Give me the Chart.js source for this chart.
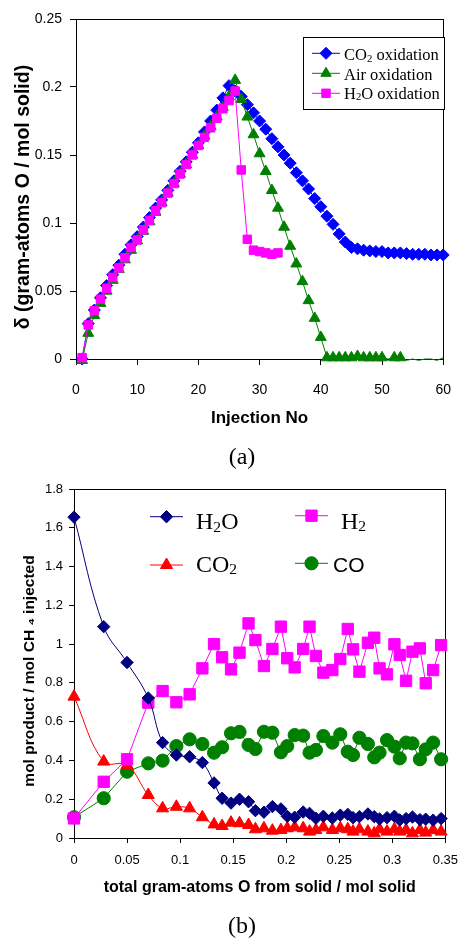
<!DOCTYPE html>
<html>
<head>
<meta charset="utf-8">
<script src="https://cdn.jsdelivr.net/npm/chart.js@4.4.0/dist/chart.umd.min.js"></script>
<style>
  html, body { margin: 0; padding: 0; background: #fff; }
  #wrap { position: relative; width: 468px; height: 940px; }
  .panel { position: absolute; left: 0; width: 468px; height: 470px; }
  #panelA { top: 0; }
  #panelB { top: 470px; }
</style>
</head>
<body>
<div id="wrap">
  <div class="panel" id="panelA"><canvas id="chartA" width="468" height="470"></canvas></div>
  <div class="panel" id="panelB"><canvas id="chartB" width="468" height="470"></canvas></div>
</div>
<script>
// (a) oxygen taken up by the solid, per injection
const injectionNo = [1, 2, 3, 4, 5, 6, 7, 8, 9, 10, 11, 12, 13, 14, 15, 16, 17, 18, 19, 20,
  21, 22, 23, 24, 25, 26, 27, 28, 29, 30, 31, 32, 33, 34, 35, 36, 37, 38, 39, 40,
  41, 42, 43, 44, 45, 46, 47, 48, 49, 50, 51, 52, 53, 54, 55, 56, 57, 58, 59, 60];
const co2Oxidation = [0.000, 0.026, 0.036, 0.045, 0.054, 0.062, 0.069, 0.077, 0.084, 0.090,
  0.097, 0.104, 0.111, 0.117, 0.124, 0.131, 0.138, 0.145, 0.152, 0.159,
  0.167, 0.175, 0.183, 0.192, 0.201, 0.197, 0.193, 0.187, 0.181, 0.175,
  0.169, 0.162, 0.156, 0.150, 0.144, 0.137, 0.131, 0.125, 0.118, 0.112,
  0.105, 0.099, 0.092, 0.086, 0.082, 0.081, 0.080, 0.0795, 0.079, 0.079,
  0.078, 0.078, 0.078, 0.0775, 0.077, 0.077, 0.077, 0.0765, 0.0765, 0.0765];
const airOxidation = [-0.001, 0.019, 0.032, 0.041, 0.050, 0.058, 0.066, 0.073, 0.080, 0.087,
  0.094, 0.101, 0.108, 0.115, 0.122, 0.129, 0.136, 0.143, 0.150, 0.157,
  0.164, 0.171, 0.178, 0.185, 0.193, 0.205, 0.191, 0.178, 0.165, 0.151,
  0.138, 0.124, 0.111, 0.097, 0.083, 0.070, 0.057, 0.043, 0.030, 0.016,
  0.001, 0.001, 0.001, 0.001, 0.001, 0.002, 0.001, 0.001, 0.001, 0.001,
  0.000, 0.001, 0.001, -0.001, 0.000, -0.001, 0.000, 0.000, -0.001, 0.001];
const h2oOxidation = [0.001, 0.025, 0.0355, 0.044, 0.052, 0.060, 0.067, 0.0745, 0.082, 0.0875,
  0.095, 0.102, 0.109, 0.115, 0.122, 0.129, 0.136, 0.143, 0.150, 0.157,
  0.163, 0.170, 0.177, 0.184, 0.190, 0.197, 0.139, 0.088, 0.080, 0.079,
  0.078, 0.077, 0.078];

// (b) products per mol CH4 vs total oxygen removed
const oxygenRemoved = [0, 0.028, 0.050, 0.070, 0.0835, 0.0965, 0.109, 0.121, 0.132, 0.1396,
  0.148, 0.156, 0.1645, 0.171, 0.179, 0.187, 0.195, 0.201, 0.208, 0.216,
  0.222, 0.228, 0.235, 0.2435, 0.251, 0.258, 0.263, 0.269, 0.277, 0.283,
  0.288, 0.295, 0.302, 0.307, 0.313, 0.319, 0.326, 0.3315, 0.3385, 0.346];
const h2oProduct = [1.655, 1.090, 0.905, 0.722, 0.492, 0.428, 0.419, 0.389, 0.284, 0.205,
  0.180, 0.200, 0.187, 0.141, 0.133, 0.162, 0.150, 0.112, 0.107, 0.134,
  0.127, 0.102, 0.112, 0.103, 0.118, 0.122, 0.105, 0.110, 0.124, 0.110,
  0.098, 0.105, 0.112, 0.093, 0.100, 0.108, 0.095, 0.097, 0.092, 0.100];
const h2Product = [0.101, 0.290, 0.406, 0.698, 0.758, 0.700, 0.741, 0.875, 1.000, 0.932,
  0.870, 0.956, 1.107, 1.021, 0.887, 0.975, 1.090, 0.927, 0.880, 0.975,
  1.090, 0.939, 0.853, 0.866, 0.923, 1.078, 0.973, 0.858, 1.007, 1.033,
  0.875, 0.844, 0.999, 0.944, 0.811, 0.961, 0.978, 0.798, 0.866, 0.995];
const co2Product = [0.729, 0.394, 0.376, 0.222, 0.153, 0.161, 0.153, 0.107, 0.070, 0.062,
  0.079, 0.076, 0.067, 0.045, 0.050, 0.038, 0.041, 0.050, 0.055, 0.050,
  0.033, 0.041, 0.055, 0.041, 0.050, 0.045, 0.033, 0.045, 0.033, 0.024,
  0.045, 0.033, 0.045, 0.033, 0.041, 0.024, 0.041, 0.028, 0.041, 0.033];
const coProduct = [0.107, 0.205, 0.342, 0.385, 0.399, 0.474, 0.509, 0.485, 0.440, 0.468,
  0.540, 0.547, 0.480, 0.459, 0.548, 0.543, 0.442, 0.474, 0.531, 0.528,
  0.440, 0.454, 0.526, 0.492, 0.535, 0.445, 0.428, 0.517, 0.485, 0.416,
  0.440, 0.505, 0.471, 0.411, 0.492, 0.488, 0.406, 0.457, 0.492, 0.406];

const SANS = "'Liberation Sans', Arial, sans-serif";
const SERIF = "'Liberation Serif', 'Times New Roman', serif";

function points(xs, ys) {
  return ys.map((y, i) => ({ x: xs[i], y: y }));
}

function fmt(v) {
  return String(parseFloat(Number(v).toFixed(2)));
}

// same geometry as chart.js point styles, used for the hand drawn legends
function drawMarker(ctx, style, x, y, r, color) {
  ctx.save();
  ctx.fillStyle = color;
  ctx.strokeStyle = color;
  ctx.lineWidth = 1;
  ctx.beginPath();
  if (style === 'rectRot') {
    ctx.moveTo(x - r, y);
    ctx.lineTo(x, y - r);
    ctx.lineTo(x + r, y);
    ctx.lineTo(x, y + r);
    ctx.closePath();
  } else if (style === 'rect') {
    const s = r * Math.SQRT1_2;
    ctx.rect(x - s, y - s, 2 * s, 2 * s);
  } else if (style === 'triangle') {
    ctx.moveTo(x, y - r);
    ctx.lineTo(x + 0.866 * r, y + 0.5 * r);
    ctx.lineTo(x - 0.866 * r, y + 0.5 * r);
    ctx.closePath();
  } else {
    ctx.arc(x, y, r, 0, Math.PI * 2);
  }
  ctx.fill();
  ctx.stroke();
  ctx.restore();
}

// text with subscripts: parts = [[text, isSub], ...]
function drawRich(ctx, parts, x, y, size, family) {
  ctx.save();
  ctx.fillStyle = '#000';
  ctx.textAlign = 'left';
  ctx.textBaseline = 'alphabetic';
  let cx = x;
  parts.forEach(([text, sub]) => {
    const s = sub ? size * 0.65 : size;
    ctx.font = s + 'px ' + family;
    ctx.fillText(text, cx, sub ? y + size * 0.1 : y);
    cx += ctx.measureText(text).width;
  });
  ctx.restore();
}

function frame(chart) {
  const a = chart.chartArea;
  const ctx = chart.ctx;
  ctx.save();
  ctx.strokeStyle = '#000';
  ctx.lineWidth = 1;
  ctx.strokeRect(Math.round(a.left) + 0.5, Math.round(a.top) + 0.5,
    Math.round(a.right - a.left), Math.round(a.bottom - a.top));
  ctx.restore();
}

function caption(chart, text, x, y) {
  const ctx = chart.ctx;
  ctx.save();
  ctx.fillStyle = '#000';
  ctx.font = '24px ' + SERIF;
  ctx.textAlign = 'center';
  ctx.textBaseline = 'middle';
  ctx.fillText(text, x, y);
  ctx.restore();
}

// rotated y title, placed a little below the middle of the axis like the original
function yTitle(chart, text, x, y, size) {
  const ctx = chart.ctx;
  ctx.save();
  ctx.translate(x, y);
  ctx.rotate(-Math.PI / 2);
  ctx.fillStyle = '#000';
  ctx.font = 'bold ' + size + 'px ' + SANS;
  ctx.textAlign = 'center';
  ctx.textBaseline = 'middle';
  ctx.fillText(text, 0, 0);
  ctx.restore();
}

function axisGrid(len) {
  return { display: true, drawOnChartArea: false, drawTicks: true, tickLength: len, color: '#000' };
}

Chart.defaults.color = '#000';
Chart.defaults.font.family = SANS;

const legendA = [
  { style: 'rectRot', color: '#0000FF', y: 53.3, base: 60, text: [['CO', 0], ['2', 1], [' oxidation', 0]] },
  { style: 'triangle', color: '#008000', y: 73.3, base: 79.5, text: [['Air oxidation', 0]] },
  { style: 'rect', color: '#FF00FF', y: 93.3, base: 98.5, text: [['H', 0], ['2', 1], ['O oxidation', 0]] }
];

const decoA = {
  id: 'decoA',
  beforeDatasetsDraw(chart) {
    frame(chart);
  },
  afterDraw(chart) {
    const ctx = chart.ctx;
    ctx.save();
    ctx.fillStyle = '#fff';
    ctx.fillRect(303, 37, 141, 72);
    ctx.strokeStyle = '#000';
    ctx.lineWidth = 1;
    ctx.strokeRect(303.5, 37.5, 141, 72);
    ctx.restore();
    legendA.forEach(item => {
      ctx.save();
      ctx.strokeStyle = item.color;
      ctx.lineWidth = 1;
      ctx.beginPath();
      ctx.moveTo(312, item.y);
      ctx.lineTo(340, item.y);
      ctx.stroke();
      ctx.restore();
      drawMarker(ctx, item.style, 326, item.y, 6, item.color);
      drawRich(ctx, item.text, 344, item.base, 16.5, SERIF);
    });
    yTitle(chart, 'δ (gram-atoms O / mol solid)', 24, 197, 19.5);
    caption(chart, '(a)', 242, 458);
  }
};

new Chart(document.getElementById('chartA'), {
  type: 'line',
  data: {
    datasets: [
      {
        label: 'CO2 oxidation',
        data: points(injectionNo, co2Oxidation),
        borderColor: '#0000FF',
        backgroundColor: '#0000FF',
        borderWidth: 1,
        pointStyle: 'rectRot',
        pointRadius: 6,
        pointBorderWidth: 1,
        order: 3,
        clip: false
      },
      {
        label: 'Air oxidation',
        data: points(injectionNo, airOxidation),
        borderColor: '#008000',
        backgroundColor: '#008000',
        borderWidth: 1,
        pointStyle: 'triangle',
        // no markers on the trailing readings
        pointRadius: ctx => (ctx.dataIndex === 50 || ctx.dataIndex > 52) ? 0 : 6.3,
        pointBorderWidth: 1,
        order: 2,
        clip: false
      },
      {
        label: 'H2O oxidation',
        data: points(injectionNo, h2oOxidation),
        borderColor: '#FF00FF',
        backgroundColor: '#FF00FF',
        borderWidth: 1,
        pointStyle: 'rect',
        pointRadius: 6,
        pointBorderWidth: 1,
        order: 1,
        clip: false
      }
    ]
  },
  options: {
    responsive: false,
    animation: false,
    events: [],
    layout: { padding: { top: 19, right: 8, bottom: 0, left: 0 } },
    plugins: {
      legend: { display: false },
      tooltip: { enabled: false }
    },
    scales: {
      x: {
        type: 'linear',
        min: 0,
        max: 60,
        afterFit: scale => { scale.height = 111; },
        ticks: { stepSize: 10, padding: 17, maxRotation: 0, autoSkip: false, font: { size: 14 } },
        grid: axisGrid(6),
        border: { color: '#000', width: 1 },
        title: {
          display: true,
          text: 'Injection No',
          font: { size: 17, weight: 'bold' },
          padding: { top: 0, bottom: 41 }
        }
      },
      y: {
        min: 0,
        max: 0.25,
        afterFit: scale => { scale.width = 76; },
        ticks: { stepSize: 0.05, padding: 8, autoSkip: false, font: { size: 14 }, callback: fmt },
        grid: axisGrid(6),
        border: { color: '#000', width: 1 }
      }
    }
  },
  plugins: [decoA]
});

const legendB = [
  { style: 'rectRot', color: '#000080', r: 6.2, x1: 150, x2: 183, y: 46.7, tx: 196, base: 59.3, family: SERIF, size: 24, text: [['H', 0], ['2', 1], ['O', 0]] },
  { style: 'rect', color: '#FF00FF', r: 8, x1: 295, x2: 328, y: 45.7, tx: 341, base: 58.5, family: SERIF, size: 24, text: [['H', 0], ['2', 1]] },
  { style: 'triangle', color: '#FF0000', r: 7, x1: 150, x2: 183, y: 95, tx: 196, base: 101.7, family: SERIF, size: 24, text: [['CO', 0], ['2', 1]] },
  { style: 'circle', color: '#008000', r: 6.6, x1: 295, x2: 328, y: 93.3, tx: 333, base: 101.7, family: SANS, size: 21, text: [['CO', 0]] }
];

const decoB = {
  id: 'decoB',
  beforeDatasetsDraw(chart) {
    frame(chart);
  },
  afterDraw(chart) {
    const ctx = chart.ctx;
    legendB.forEach(item => {
      ctx.save();
      ctx.strokeStyle = item.color;
      ctx.lineWidth = 1;
      ctx.beginPath();
      ctx.moveTo(item.x1, item.y);
      ctx.lineTo(item.x2, item.y);
      ctx.stroke();
      ctx.restore();
      drawMarker(ctx, item.style, (item.x1 + item.x2) / 2, item.y, item.r, item.color);
      drawRich(ctx, item.text, item.tx, item.base, item.size, item.family);
    });
    yTitle(chart, 'mol product / mol CH ₄ injected', 30, 201, 15.5);
    caption(chart, '(b)', 242, 456.5);
  }
};

new Chart(document.getElementById('chartB'), {
  type: 'line',
  data: {
    datasets: [
      {
        label: 'H2O',
        data: points(oxygenRemoved, h2oProduct),
        borderColor: '#000080',
        backgroundColor: '#000080',
        borderWidth: 1,
        tension: 0.4,
        pointStyle: 'rectRot',
        pointRadius: 6.2,
        pointBorderWidth: 1,
        order: 1,
        clip: false
      },
      {
        label: 'H2',
        data: points(oxygenRemoved, h2Product),
        borderColor: '#FF00FF',
        backgroundColor: '#FF00FF',
        borderWidth: 1,
        pointStyle: 'rect',
        pointRadius: 8,
        pointBorderWidth: 1,
        order: 2,
        clip: false
      },
      {
        label: 'CO2',
        data: points(oxygenRemoved, co2Product),
        borderColor: '#FF0000',
        backgroundColor: '#FF0000',
        borderWidth: 1,
        tension: 0.4,
        pointStyle: 'triangle',
        pointRadius: 7,
        pointBorderWidth: 1,
        order: 3,
        clip: false
      },
      {
        label: 'CO',
        data: points(oxygenRemoved, coProduct),
        borderColor: '#008000',
        backgroundColor: '#008000',
        borderWidth: 1,
        pointStyle: 'circle',
        pointRadius: 6.6,
        pointBorderWidth: 1,
        order: 4,
        clip: false
      }
    ]
  },
  options: {
    responsive: false,
    animation: false,
    events: [],
    layout: { padding: { top: 19, right: 9, bottom: 0, left: 0 } },
    plugins: {
      legend: { display: false },
      tooltip: { enabled: false }
    },
    scales: {
      x: {
        type: 'linear',
        min: 0,
        max: 0.35,
        afterFit: scale => { scale.height = 102; },
        ticks: { stepSize: 0.05, padding: 10, maxRotation: 0, autoSkip: false, font: { size: 13 }, callback: fmt },
        grid: axisGrid(5),
        border: { color: '#000', width: 1 },
        title: {
          display: true,
          text: 'total gram-atoms O from solid / mol solid',
          font: { size: 16, weight: 'bold' },
          padding: { top: 0, bottom: 43 }
        }
      },
      y: {
        min: 0,
        max: 1.8,
        afterFit: scale => { scale.width = 74; },
        ticks: { stepSize: 0.2, padding: 6, autoSkip: false, font: { size: 13 }, callback: fmt },
        grid: axisGrid(5),
        border: { color: '#000', width: 1 }
      }
    }
  },
  plugins: [decoB]
});
</script>
</body>
</html>
